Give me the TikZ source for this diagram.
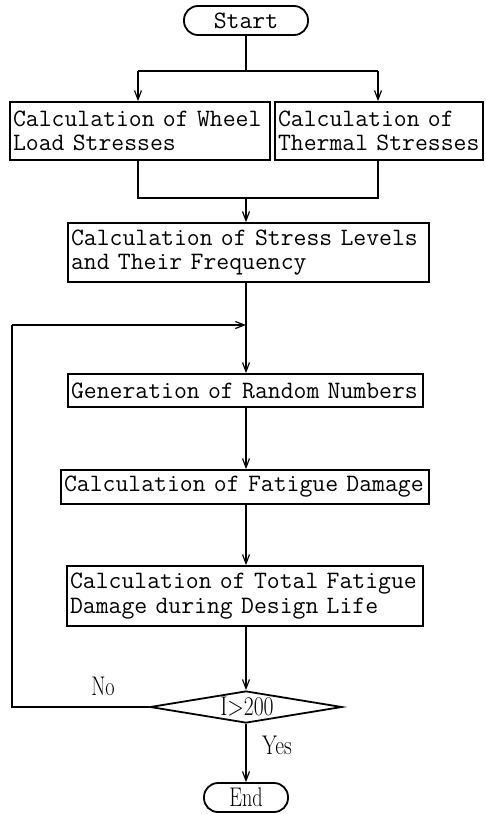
\documentclass[tikz,border=0pt]{standalone}
\usepackage{fontspec}
\usetikzlibrary{arrows.meta,shapes.geometric}
\begin{document}
\begin{tikzpicture}[x=1pt,y=-1pt,
  box/.style={draw,line width=1.8pt,inner xsep=3pt,inner ysep=0pt,align=left,
    font=\ttfamily\fontsize{25}{24.5}\selectfont},
  term/.style={draw,line width=1.8pt,rounded corners=14pt,inner sep=0pt,minimum height=29pt},
  dec/.style={draw,line width=1.8pt,diamond,aspect=6,inner sep=0pt,minimum width=192pt,minimum height=32pt},
  conn/.style={line width=1.2pt},
  arr/.style={conn,-{Straight Barb[length=9pt,width=7pt,line width=1.2pt]}},
  lab/.style={font=\fontsize{27}{27}\selectfont,inner sep=0pt}]
\useasboundingbox (0,0) rectangle (486,814);
% nodes
\node[term,minimum width=124pt,font=\ttfamily\fontsize{25}{25}\selectfont] (start) at (246,20.5) {Start};
\node[box,text width=254pt,minimum height=58pt] (wheel) at (140,131) {\mbox{Calculation of Wheel}\\\mbox{Load Stresses}};
\node[box,text width=202pt,minimum height=58pt] (therm) at (379,131) {\mbox{Calculation of}\\\mbox{Thermal Stresses}};
\node[box,text width=355pt,minimum height=59pt] (stress) at (248.5,252.5) {\mbox{Calculation of Stress Levels}\\\mbox{and Their Frequency}};
\node[box,text width=349pt,minimum height=33pt] (gen) at (245.5,390.5) {\mbox{Generation of Random Numbers}};
\node[box,text width=362pt,minimum height=34pt] (fat) at (245,487) {\mbox{Calculation of Fatigue Damage}};
\node[box,text width=350pt,minimum height=60pt] (tot) at (245,596) {\mbox{Calculation of Total Fatigue}\\\mbox{Damage during Design Life}};
\node[dec] (dia) at (246,707) {};
\node[lab] (cond) at (247,707) {\scalebox{0.8}[1]{I>200}};
\node[term,minimum width=84pt,font=\fontsize{27}{27}\selectfont] (end) at (246,797.5) {\scalebox{0.75}[1]{End}};
\node[lab] (no) at (103,686) {\scalebox{0.75}[1]{No}};
\node[lab] (yes) at (277,745) {\scalebox{0.8}[1]{Yes}};
% axis coordinates
\coordinate (split) at (246,71);
\coordinate (jl) at (138,71);
\coordinate (jr) at (378,71);
\coordinate (ml) at (138,198);
\coordinate (mr) at (378,198);
\coordinate (merge) at (246,198);
\coordinate (loopy) at (246,325);
\coordinate (lx) at (12,707);
\coordinate (ly) at (12,325);
% connectors
\draw[conn] (split |- start.south) -- (split);
\draw[conn] (jl) -- (jr);
\draw[arr] (jl) -- (jl |- wheel.north);
\draw[arr] (jr) -- (jr |- therm.north);
\draw[conn] (ml |- wheel.south) -- (ml) -- (mr) -- (mr |- therm.south);
\draw[arr] (merge) -- (merge |- stress.north);
\draw[arr] (merge |- stress.south) -- (merge |- gen.north);
\draw[arr] (merge |- gen.south) -- (merge |- fat.north);
\draw[arr] (merge |- fat.south) -- (merge |- tot.north);
\draw[arr] (merge |- tot.south) -- (dia.north);
\draw[conn] (dia.west) -- (lx) -- (ly);
\draw[arr] (ly) -- (loopy);
\draw[arr] (dia.south) -- (end.north);
\end{tikzpicture}
\end{document}
